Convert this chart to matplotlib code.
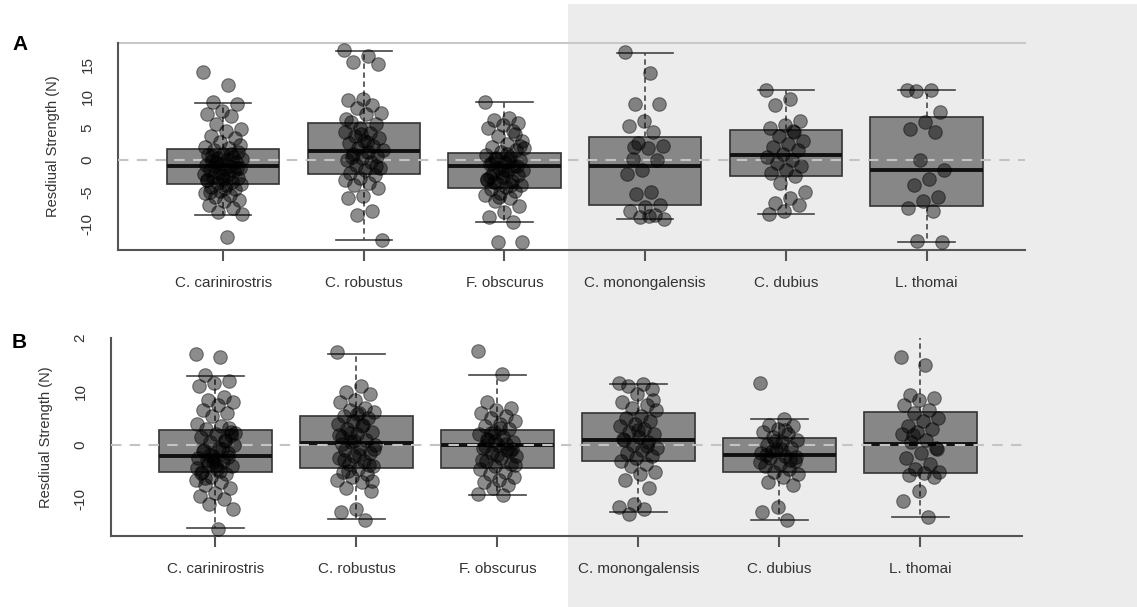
import matplotlib.pyplot as plt
import numpy as np
from matplotlib.patches import Rectangle

plt.rcParams['font.family'] = ['Liberation Sans', 'DejaVu Sans']

species = ["C. carinirostris", "C. robustus", "F. obscurus",
           "C. monongalensis", "C. dubius", "L. thomai"]

# box stats: (whislo, q1, median, q3, whishi)
stats_a = [
    (-8.6, -3.75, -0.9, 1.65, 8.95),
    (-12.6, -2.2, 1.4, 5.75, 17.1),
    (-9.7, -4.4, -0.9, 1.05, 9.1),
    (-9.3, -7.0, -0.9, 3.65, 16.8),
    (-8.5, -2.5, 0.7, 4.7, 10.9),
    (-12.9, -7.25, -1.65, 6.65, 10.9),
]
stats_b = [
    (-15.5, -5.0, -2.1, 2.9, 12.9),
    (-13.9, -4.2, 0.3, 5.4, 17.0),
    (-9.3, -4.2, 0.0, 2.8, 13.1),
    (-12.6, -2.9, 0.9, 5.9, 11.4),
    (-14.1, -5.0, -1.8, 1.25, 4.8),
    (-13.4, -5.2, 0.2, 6.1, 21.5),
]

# individual residuals (approximate readings)
points_a = [
    [13.7, 11.8, 9.0, 8.7, 7.6, 7.2, 6.8, 5.6, 4.8, 4.6, 3.8, 3.4, 2.8, 2.1, 1.8,
     1.5, 1.2, 0.9, 0.7, 0.5, 0.3, 0.1, 0.0, -0.2, -0.4, -0.6, -0.8, -0.9, -1.0,
     -1.2, -1.4, -1.6, -1.8, -2.0, -2.2, -2.4, -2.6, -2.8, -3.0, -3.2, -3.4, -3.6,
     -3.8, -4.0, -4.3, -4.6, -4.9, -5.2, -5.5, -5.8, -6.2, -6.5, -7.0, -7.6, -8.1,
     -8.5, -12.1, 0.6, -1.3, -2.5, -3.1, 1.0, -0.5, 2.4, -4.4, -5.0],
    [17.2, 16.2, 15.3, 15.0, 9.6, 9.4, 8.6, 8.2, 7.4, 7.2, 6.0, 5.6, 5.0, 4.4, 4.2,
     3.8, 3.4, 3.0, 2.6, 2.2, 1.8, 1.5, 1.2, 0.9, 0.6, 0.3, 0.0, -0.4, -0.8, -1.2,
     -1.6, -2.0, -2.4, -2.8, -3.2, -3.6, -4.0, -4.4, -5.6, -6.0, -8.0, -8.6, -12.5,
     2.8, 0.5, -1.0, 4.0, 6.4],
    [9.1, 6.5, 6.2, 5.8, 5.4, 5.0, 4.5, 3.8, 3.0, 2.5, 2.0, 1.6, 1.2, 0.8, 0.5, 0.2,
     0.0, -0.3, -0.6, -0.9, -1.2, -1.5, -1.8, -2.1, -2.4, -2.7, -3.0, -3.3, -3.6,
     -3.9, -4.2, -4.5, -4.8, -5.1, -5.5, -6.0, -6.5, -7.2, -8.2, -9.0, -9.7, -12.8,
     -12.9, 1.0, -0.5, -1.0, -2.0, -3.2, -4.0, 0.3, 2.2, -1.6, -2.6, 4.0, -5.8, 1.8,
     -0.2, -3.5],
    [16.9, 13.6, 8.8, 8.7, 6.1, 5.3, 4.4, 2.6, 2.2, 1.9, 0.2, 0.0, -1.5, -2.2, -5.0,
     -5.4, -7.0, -7.4, -8.0, -8.6, -9.0, -9.3, -8.8, 2.0],
    [10.9, 9.5, 8.6, 6.1, 5.5, 5.0, 4.3, 3.8, 3.0, 2.5, 2.0, 1.5, 1.0, 0.5, 0.0, -0.5,
     -1.0, -1.6, -2.1, -2.5, -3.6, -5.0, -6.0, -6.7, -7.0, -8.0, -8.5, 4.5],
    [10.9, 10.9, 10.8, 7.5, 6.0, 4.9, 4.3, 0.0, -1.5, -3.0, -4.0, -5.8, -6.5, -7.6,
     -8.0, -12.7, -12.9],
]
points_b = [
    [17.0, 16.5, 13.0, 12.0, 11.5, 11.0, 9.0, 8.5, 8.0, 7.5, 6.5, 6.0, 5.5, 4.0, 3.5,
     3.0, 2.5, 2.0, 1.5, 1.0, 0.5, 0.0, -0.5, -1.0, -1.5, -2.0, -2.5, -3.0, -3.5,
     -4.0, -4.5, -5.0, -5.5, -6.0, -6.5, -7.0, -7.5, -8.0, -9.0, -9.5, -10.0, -11.0,
     -12.0, -15.6, -1.2, -2.2, -3.2, -4.2, -0.8, -2.8, 1.8, -3.8, -5.2, 0.8, -1.8,
     2.2, -4.8, -6.2, 3.2, -2.6],
    [17.3, 11.0, 10.0, 9.5, 8.5, 8.0, 7.0, 6.5, 6.2, 6.0, 5.5, 5.0, 4.5, 4.0, 3.5,
     3.0, 2.5, 2.0, 1.5, 1.0, 0.5, 0.0, -0.5, -1.0, -1.5, -2.0, -2.5, -3.0, -3.5,
     -4.0, -4.5, -5.0, -5.5, -6.0, -6.5, -7.0, -8.0, -8.5, -12.0, -12.5, -14.0, 2.2,
     -0.8, -1.8, -2.8, -3.8, 0.8, 1.8, 3.8, -4.8, -6.8, 5.8, 0.2],
    [17.6, 13.3, 8.0, 7.0, 6.5, 6.0, 5.5, 5.0, 4.5, 4.0, 3.5, 3.0, 2.5, 2.0, 1.5,
     1.0, 0.5, 0.0, -0.5, -1.0, -1.5, -2.0, -2.5, -3.0, -3.5, -4.0, -4.5, -5.0,
     -5.5, -6.0, -6.5, -7.0, -7.5, -8.0, -9.2, -9.4, 1.2, -0.8, -1.8, -2.8, 0.2,
     2.2, -3.8, 3.2, -0.2, -1.2, 0.7],
    [11.5, 11.4, 11.0, 10.5, 9.5, 8.0, 7.5, 7.0, 6.5, 5.5, 5.0, 4.5, 4.0, 3.5, 3.0,
     2.5, 2.0, 1.5, 1.0, 0.5, 0.0, -0.5, -1.0, -1.5, -2.0, -2.5, -3.0, -3.5, -4.0,
     -5.0, -5.5, -6.5, -8.0, -11.0, -11.5, -12.0, -12.8, 8.5, 2.8, 1.2, -0.2],
    [11.5, 4.8, 3.8, 3.5, 3.0, 2.5, 2.0, 1.5, 1.0, 0.5, 0.0, -0.5, -1.0, -1.5, -2.0,
     -2.5, -3.0, -3.5, -4.0, -4.5, -5.0, -5.5, -6.0, -7.0, -7.5, -11.5, -12.5, -14.0,
     -1.2, -2.2, -0.8, -1.8, -2.8, 0.8, -3.2, 2.8],
    [16.5, 15.0, 9.3, 8.8, 8.5, 7.5, 6.5, 6.0, 5.0, 4.5, 3.5, 3.0, 2.5, 2.0, 1.0, 0.5,
     -0.5, -1.5, -2.5, -3.5, -4.5, -5.0, -5.3, -5.6, -6.0, -8.5, -10.5, -13.5, 1.8,
     -0.8],
]

yticks_a = [-10, -5, 0, 5, 10, 15]
yticks_b = [-10, 0, 10, 20]
yticklabels_b = ["-10", "0", "10", "2"]


def draw_panel(ax, stats, points, ylim, xlim, yticks, yticklabels, labelpad):
    positions = np.arange(1, len(species) + 1)
    box_stats = []
    for name, (lo, q1, med, q3, hi) in zip(species, stats):
        box_stats.append(dict(label=name, whislo=lo, q1=q1, med=med,
                              q3=q3, whishi=hi, fliers=[]))

    ax.bxp(box_stats, positions=positions, widths=0.8, patch_artist=True,
           showfliers=False,
           boxprops=dict(facecolor="#878787", edgecolor="#333333", linewidth=1.2),
           medianprops=dict(color="#111111", linewidth=2.8),
           whiskerprops=dict(color="#555555", linestyle=(0, (3, 2)), linewidth=1.3),
           capprops=dict(color="#444444", linewidth=1.2),
           capwidths=0.4)

    # horizontal reference line at zero
    ax.axhline(0, color="#c4c4c4", linestyle=(0, (5, 4)), linewidth=1.5, zorder=3)

    # jittered points (deterministic spread)
    for pos, vals in zip(positions, points):
        vals = np.asarray(vals)
        offs = ((np.arange(len(vals)) * 0.6180339887) % 1 - 0.5) * 0.28
        ax.scatter(pos + offs, vals, s=95, facecolor="black", edgecolor="black",
                   linewidth=0.8, alpha=0.45, zorder=4)

    ax.set_xlim(*xlim)
    ax.set_ylim(*ylim)
    ax.set_xticks(positions)
    ax.set_xticklabels(species, fontsize=11, color="#333333")
    ax.set_yticks(yticks)
    ax.set_yticklabels(yticklabels, rotation=90, va="center", fontsize=11,
                       color="#333333")
    ax.tick_params(axis="y", length=0, pad=17)
    ax.tick_params(axis="x", length=8, width=1.5, color="#555555", pad=11)
    ax.patch.set_alpha(0)
    for side in ["top", "right"]:
        ax.spines[side].set_visible(False)
    for side in ["left", "bottom"]:
        ax.spines[side].set_color("#555555")
        ax.spines[side].set_linewidth(1.5)
    ax.set_ylabel("Resdiual Strength (N)", fontsize=10.5, color="#333333",
                  labelpad=labelpad)


fig = plt.figure(figsize=(11.37, 6.07), dpi=100)
fig.patches.append(Rectangle((568 / 1137, 0), 1 - 568 / 1137, 603 / 607,
                             transform=fig.transFigure, facecolor="#ececec",
                             edgecolor="none", zorder=-10))

ax_a = fig.add_axes([118 / 1137, 1 - 250 / 607, 907 / 1137, 207 / 607])
ax_b = fig.add_axes([111 / 1137, 1 - 536 / 607, 911 / 1137, 198 / 607])

draw_panel(ax_a, stats_a, points_a, (-14.1, 18.3), (0.253, 6.70),
           yticks_a, [str(t) for t in yticks_a], 15)
draw_panel(ax_b, stats_b, points_b, (-17.0, 19.6), (0.26, 6.72),
           yticks_b, yticklabels_b, 15)

# light grey top border of panel A
ax_a.axhline(18.3, color="#c8c8c8", linewidth=1.5, clip_on=False, zorder=1)

fig.text(12 / 1137, 1 - 45 / 607, "A", fontsize=15, fontweight="bold", va="center")
fig.text(12 / 1137, 1 - 343 / 607, "B", fontsize=15, fontweight="bold", va="center")

plt.savefig("out.png", dpi=100)
